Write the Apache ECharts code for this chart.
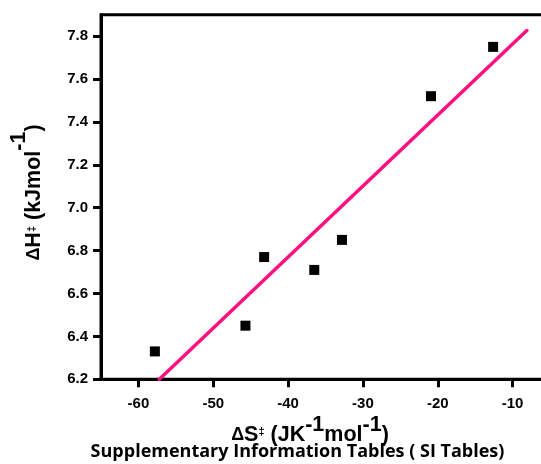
<!DOCTYPE html>
<html>
<head>
<meta charset="utf-8">
<script src="https://cdn.jsdelivr.net/npm/echarts@6/dist/echarts.min.js"></script>
<style>html,body{margin:0;padding:0;background:#fff}#c{width:541px;height:464px}</style>
</head>
<body>
<div id="c"></div>
<script>
// Data
const dS = [-57.8, -45.7, -43.2, -36.5, -32.8, -20.9, -12.6];
const dH = [6.33, 6.45, 6.77, 6.71, 6.85, 7.52, 7.75];
const fitX = [-57.2, -8.1];
const fitY = [6.2, 7.826];
const xTicks = [-60, -50, -40, -30, -20, -10];
const yTicks = [6.2, 6.4, 6.6, 6.8, 7.0, 7.2, 7.4, 7.6, 7.8];

const chart = echarts.init(document.getElementById('c'));
const F = 'Liberation Sans, Arial, sans-serif';
function richTitle(supPad) {
  return {
    d: { fontFamily: F, fontWeight: 'bold', fontSize: 18, lineHeight: 44, fill: '#000' },
    s: { fontFamily: F, fontWeight: 'bold', fontSize: 21.5, lineHeight: 44, fill: '#000' },
    t: { fontFamily: F, fontWeight: 'bold', fontSize: 11, padding: [0, 0, 6, 0], fill: '#000' },
    p: { fontFamily: F, fontWeight: 'bold', fontSize: 21.5, padding: [0, 0, supPad, 0], fill: '#000' }
  };
}
chart.setOption({
  animation: false,
  backgroundColor: '#fff',
  grid: { left: 101, top: 14.7, bottom: 84.7, width: 449, outerBoundsMode: 'none', containLabel: false,
    show: true, borderColor: '#000', borderWidth: 3, backgroundColor: 'transparent' },
  xAxis: {
    type: 'value', min: -65, max: -5,
    splitLine: { show: false },
    axisLine: { lineStyle: { color: '#000', width: 3 } },
    axisTick: { customValues: xTicks, length: 8, lineStyle: { color: '#000', width: 3 } },
    axisLabel: { customValues: xTicks, margin: 17, color: '#000', fontFamily: F, fontWeight: 'bold', fontSize: 15 }
  },
  yAxis: {
    type: 'value', min: 6.2, max: 7.9,
    splitLine: { show: false },
    axisLine: { lineStyle: { color: '#000', width: 3 } },
    axisTick: { customValues: yTicks, length: 8, lineStyle: { color: '#000', width: 3 } },
    axisLabel: { customValues: yTicks, margin: 13, color: '#000', fontFamily: F, fontWeight: 'bold', fontSize: 15,
      formatter: v => v.toFixed(1) }
  },
  series: [
    { type: 'line', data: fitX.map((x, i) => [x, fitY[i]]), symbol: 'none',
      lineStyle: { color: '#ff1080', width: 3.5, cap: 'round' }, z: 2 },
    { type: 'scatter', data: dS.map((x, i) => [x, dH[i]]), symbol: 'rect', symbolSize: 10,
      itemStyle: { color: '#000', opacity: 1 }, z: 3 }
  ],
  graphic: [
    { type: 'text', x: 310, y: 435,
      style: {
        text: '{d|Δ}{s|S}{t|‡}{s| (JK}{p|-1}{s|mol}{p|-1}{s|)}',
        align: 'center', verticalAlign: 'middle',
        rich: richTitle(20)
      }
    },
    { type: 'text', x: 297.5, y: 452,
      style: { text: 'Supplementary Information Tables ( SI Tables)', fill: '#000',
        align: 'center', verticalAlign: 'middle',
        fontFamily: 'Open Sans, sans-serif', fontWeight: 'bold', fontSize: 18 } },
    { type: 'text', x: 34.5, y: 192.5, rotation: Math.PI / 2,
      style: {
        text: '{d|Δ}{s|H}{t|‡}{s| (kJmol}{p|-1}{s|)}',
        align: 'center', verticalAlign: 'middle',
        rich: richTitle(30)
      }
    }
  ]
});
</script>
</body>
</html>
